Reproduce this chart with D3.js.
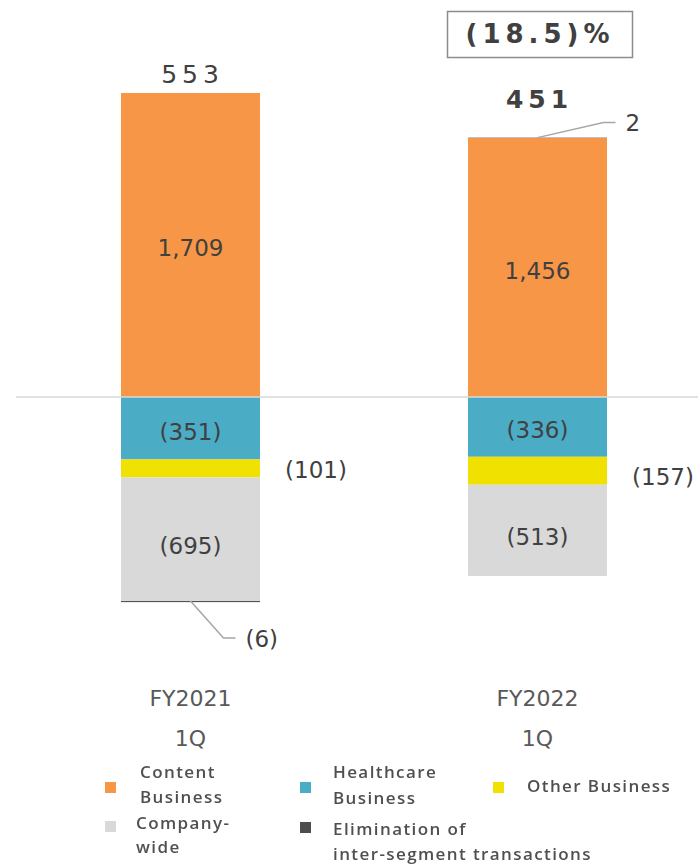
<!DOCTYPE html>
<html>
<head>
<meta charset="utf-8">
<script src="https://cdn.jsdelivr.net/npm/d3@7"></script>
<style>
  html, body { margin: 0; padding: 0; background: #fff; }
  svg { display: block; }
</style>
</head>
<body>
<svg id="chart" width="698" height="865"></svg>
<script>
// Operating income by segment, quarterly comparison
const categories = ["FY2021", "FY2022"];
const periodLabel = ["1Q", "1Q"];
const segments = ["content", "healthcare", "other", "companywide", "elimination"];
const segmentNames = {
  content: ["Content", "Business"],
  healthcare: ["Healthcare", "Business"],
  other: ["Other Business"],
  companywide: ["Company-", "wide"],
  elimination: ["Elimination of", "inter-segment transactions"]
};
const content     = [1709, 1456];
const healthcare  = [-351, -336];
const other       = [-101, -157];
const companywide = [-695, -513];
const elimination = [-6, 2];
const totals      = [553, 451];
const changeLabel = "(18.5)%";

const colors = {
  content: "#F79646",
  healthcare: "#4BACC6",
  other: "#F0E100",
  companywide: "#D9D9D9",
  elimination: "#4D4D4D"
};

const series = { content, healthcare, other, companywide, elimination };
const rows = categories.map((c, i) => {
  const r = { cat: c };
  segments.forEach(k => r[k] = series[k][i]);
  return r;
});

const stack = d3.stack().keys(segments).offset(d3.stackOffsetDiverging);
const layers = stack(rows);

const svg = d3.select("#chart");

const x = d3.scaleBand().domain(categories).range([121, 607])
  .paddingInner(208 / 347).paddingOuter(0);
const y = d3.scaleLinear().domain([-1300, 1800])
  .range([397 + 1300 * 0.1779, 397 - 1800 * 0.1779]);

const textColor = "#404040";
const labelFont = "'DejaVu Sans', Verdana, sans-serif";
const labelSize = 23;

// bars
const barG = svg.append("g");
layers.forEach(layer => {
  barG.selectAll(null).data(layer).enter().append("rect")
    .attr("x", d => x(d.data.cat))
    .attr("width", x.bandwidth())
    .attr("y", d => y(Math.max(d[0], d[1])))
    .attr("height", d => Math.abs(y(d[0]) - y(d[1])))
    .attr("fill", colors[layer.key]);
});

// zero line across the plot
svg.append("line")
  .attr("x1", 16).attr("x2", 698)
  .attr("y1", y(0)).attr("y2", y(0))
  .attr("stroke", "#D9D9D9").attr("stroke-width", 1.5);

const fmt = v => v < 0 ? "(" + d3.format(",")(-v) + ")" : d3.format(",")(v);
const layerOf = k => layers.find(l => l.key === k);

// labels inside the larger segments
["content", "healthcare", "companywide"].forEach(k => {
  svg.append("g").selectAll("text").data(layerOf(k)).enter().append("text")
    .attr("x", d => x(d.data.cat) + x.bandwidth() / 2)
    .attr("y", d => (y(d[0]) + y(d[1])) / 2 + (k === "companywide" ? 3 : 0))
    .attr("dy", "0.5em")
    .attr("text-anchor", "middle")
    .attr("font-family", labelFont).attr("font-size", labelSize)
    .attr("fill", textColor)
    .text(d => fmt(d.data[k]));
});

// "Other" labels to the right of the bars
svg.append("g").selectAll("text").data(layerOf("other")).enter().append("text")
  .attr("x", d => x(d.data.cat) + x.bandwidth() + 56)
  .attr("y", d => y(Math.min(d[0], d[1])) - 8)
  .attr("dy", "0.38em")
  .attr("text-anchor", "middle")
  .attr("font-family", labelFont).attr("font-size", labelSize)
  .attr("fill", textColor)
  .text(d => fmt(d.data.other));

// elimination callouts with leader lines
layerOf("elimination").forEach(d => {
  const cx = x(d.data.cat) + x.bandwidth() / 2;
  const v = d.data.elimination;
  const edge = y(d[1]);
  const ey = v < 0 ? edge + 37 : edge - 15;
  const ex = cx + (v < 0 ? 33 : 66);
  svg.append("polyline")
    .attr("points", [[cx, edge], [ex, ey], [ex + 12, ey]].map(p => p.join(",")).join(" "))
    .attr("fill", "none").attr("stroke", "#A6A6A6").attr("stroke-width", 1.5);
  svg.append("text")
    .attr("x", ex + 22).attr("y", ey)
    .attr("dy", "0.38em")
    .attr("font-family", labelFont).attr("font-size", labelSize)
    .attr("fill", textColor)
    .text(fmt(v));
});

// totals above each bar
const totalOffset = [10, 30];
categories.forEach((c, i) => {
  const top = d3.min(layers, l => y(l[i][1]));
  svg.append("text")
    .attr("x", x(c) + x.bandwidth() / 2 + 2)
    .attr("y", top - totalOffset[i])
    .attr("text-anchor", "middle")
    .attr("font-family", labelFont).attr("font-size", 25)
    .attr("font-weight", i === 1 ? "bold" : "normal")
    .attr("letter-spacing", 5)
    .attr("fill", textColor)
    .text(d3.format(",")(totals[i]));
});

// year-over-year change box
svg.append("rect")
  .attr("x", 447.5).attr("y", 11.5).attr("width", 185).attr("height", 46)
  .attr("fill", "#fff").attr("stroke", "#8C8C8C").attr("stroke-width", 1.5);
svg.append("text")
  .attr("x", 540).attr("y", 43)
  .attr("text-anchor", "middle")
  .attr("font-family", labelFont).attr("font-size", 26).attr("font-weight", "bold")
  .attr("letter-spacing", 5)
  .attr("fill", textColor)
  .text(changeLabel);

// category axis labels
const catG = svg.append("g");
categories.forEach((c, i) => {
  const cx = x(c) + x.bandwidth() / 2;
  catG.append("text").attr("x", cx).attr("y", 706)
    .attr("text-anchor", "middle")
    .attr("font-family", labelFont).attr("font-size", 22).attr("fill", "#595959")
    .text(c);
  catG.append("text").attr("x", cx).attr("y", 746)
    .attr("text-anchor", "middle")
    .attr("font-family", labelFont).attr("font-size", 22).attr("fill", "#595959")
    .text(periodLabel[i]);
});

// legend
const defs = svg.append("defs");
defs.append("filter").attr("id", "soft")
  .append("feGaussianBlur").attr("stdDeviation", 0.6);

const legendPos = {
  content:     { sx: 105, sy: 782, tx: 140, ty: [778, 803] },
  healthcare:  { sx: 300, sy: 782, tx: 333, ty: [778, 804] },
  other:       { sx: 493, sy: 782, tx: 527, ty: [792] },
  companywide: { sx: 105, sy: 821, tx: 136, ty: [829, 853] },
  elimination: { sx: 300, sy: 822, tx: 333, ty: [835, 860] }
};
const legend = svg.append("g").attr("filter", "url(#soft)");
segments.forEach(k => {
  const p = legendPos[k];
  legend.append("rect").attr("x", p.sx).attr("y", p.sy)
    .attr("width", 11).attr("height", 11).attr("fill", colors[k]);
  segmentNames[k].forEach((line, j) => {
    legend.append("text").attr("x", p.tx).attr("y", p.ty[j])
      .attr("font-family", "'Open Sans', sans-serif").attr("font-size", 17)
      .attr("font-weight", 600)
      .attr("letter-spacing", 1.4)
      .attr("fill", "#505050")
      .text(line);
  });
});
</script>
</body>
</html>
